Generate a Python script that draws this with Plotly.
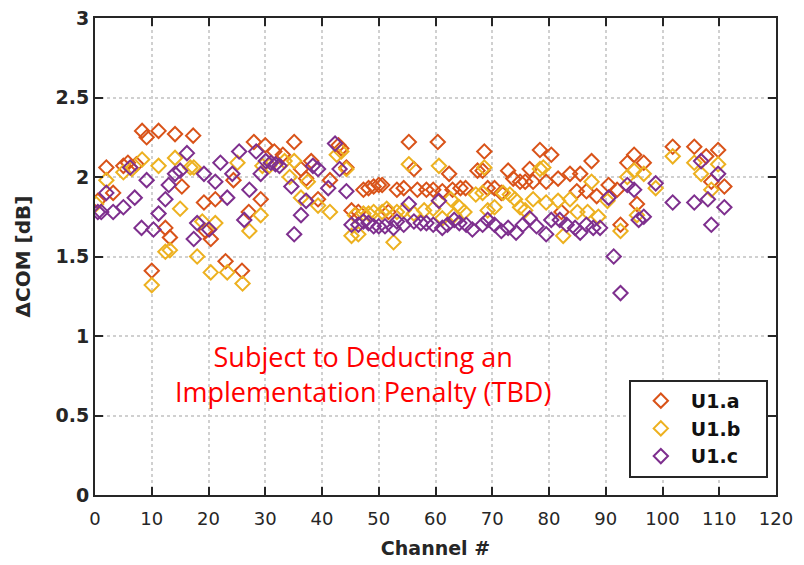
import plotly.graph_objects as go

# U1.a (channel, delta COM)
a_ch = [0.5, 2.0, 3.2, 5.0, 5.8, 7.3, 8.3, 9.1, 10.0, 11.2, 12.4, 13.2, 14.1, 15.3, 17.3, 19.2, 19.5, 20.4,
        21.2, 23.0, 24.4, 25.9, 27.1, 28.0, 29.2, 30.0, 31.6, 33.1, 35.1, 36.3, 37.2, 38.1, 39.3, 41.4,
        42.9, 43.4, 44.3, 45.2, 46.4, 47.3, 48.2, 49.1, 50.0, 50.6, 51.7, 53.2, 54.4, 55.3, 56.2, 56.8,
        58.4, 59.6, 60.4, 61.2, 62.4, 63.0, 64.4, 65.3, 67.4, 68.3, 68.6, 69.2, 70.4, 71.6, 72.8, 73.7,
        74.9, 75.8, 76.6, 77.2, 78.4, 79.5, 80.4, 81.6, 82.2, 83.7, 84.9, 85.5, 86.6, 87.5, 88.4, 90.5,
        92.0, 92.6, 93.8, 95.0, 95.5, 96.7, 101.8, 105.6, 107.7, 108.6, 109.8, 110.9]
a_val = [1.85, 2.06, 1.90, 2.07, 2.09, 2.08, 2.29, 2.25, 1.41, 2.29, 1.68, 1.62, 2.27, 1.94, 2.26, 1.84, 1.66, 1.61,
         1.86, 1.47, 1.98, 1.41, 1.78, 2.22, 1.86, 2.20, 2.16, 2.14, 2.22, 2.05, 1.99, 2.10, 1.86, 1.98,
         2.20, 2.18, 2.06, 1.79, 1.78, 1.92, 1.93, 1.94, 1.95, 1.95, 1.78, 1.92, 1.93, 2.22, 2.05, 1.92,
         1.92, 1.92, 2.22, 1.91, 2.02, 1.92, 1.93, 1.93, 2.04, 2.04, 2.16, 1.93, 1.93, 1.90, 2.04, 1.99,
         1.97, 1.97, 2.05, 1.97, 2.17, 1.97, 2.14, 1.99, 1.78, 2.02, 1.91, 2.02, 1.91, 2.10, 1.88, 1.95,
         1.92, 1.70, 2.09, 2.14, 1.83, 2.09, 2.19, 2.19, 2.13, 1.97, 2.17, 1.94]

# U1.b
b_ch = [0.2, 2.0, 5.0, 6.5, 8.3, 10.0, 11.2, 12.4, 13.2, 14.1, 15.0, 16.8, 17.4, 18.0, 18.9, 20.4, 21.2, 23.3,
        25.1, 26.0, 27.2, 29.2, 29.5, 30.7, 33.4, 34.3, 35.1, 36.3, 37.5, 39.3, 41.4, 42.6, 43.4, 44.3,
        45.2, 45.8, 46.4, 47.3, 48.2, 49.1, 50.6, 51.4, 52.6, 53.2, 54.4, 55.3, 56.2, 58.0, 59.6, 60.6,
        61.2, 62.7, 63.3, 64.2, 65.1, 67.1, 68.3, 68.6, 69.2, 70.4, 71.9, 73.1, 74.0, 74.9, 75.8, 77.2,
        78.4, 79.0, 79.5, 81.6, 82.5, 83.7, 85.0, 86.8, 87.5, 88.7, 90.3, 92.6, 93.8, 95.0, 95.5, 96.7,
        98.8, 101.8, 105.6, 106.8, 108.6, 109.8]
b_val = [1.83, 1.98, 2.03, 2.05, 2.11, 1.32, 2.07, 1.53, 1.54, 2.12, 1.80, 2.06, 2.06, 1.50, 1.72, 1.40, 1.71, 1.40,
         2.09, 1.33, 1.66, 1.76, 2.07, 2.07, 2.10, 2.00, 2.10, 1.87, 1.97, 1.82, 1.78, 2.14, 2.16, 2.05,
         1.63, 1.76, 1.64, 1.77, 1.77, 1.78, 1.78, 1.80, 1.59, 1.78, 1.79, 2.08, 1.77, 1.79, 1.80, 2.07,
         1.74, 1.86, 1.76, 1.81, 1.78, 1.89, 1.90, 2.06, 1.79, 1.81, 1.90, 1.89, 1.86, 1.81, 1.79, 1.86,
         2.05, 2.06, 1.84, 1.85, 1.63, 1.86, 1.78, 1.78, 1.97, 1.75, 1.85, 1.66, 2.00, 2.04, 1.76, 2.02,
         1.93, 2.13, 2.09, 2.02, 1.92, 2.08]

# U1.c
c_ch = [0.5, 1.1, 2.0, 3.2, 5.0, 6.2, 7.0, 8.2, 9.1, 10.3, 11.2, 12.4, 13.0, 14.1, 15.0, 16.2, 17.4, 18.0,
        19.2, 20.1, 21.2, 22.1, 23.3, 24.2, 25.4, 26.3, 27.2, 28.4, 29.2, 30.1, 31.0, 31.8, 32.5, 34.6,
        35.1, 36.3, 37.2, 38.4, 39.3, 41.1, 42.3, 43.1, 44.3, 45.2, 46.4, 47.3, 48.2, 49.1, 50.0, 51.1,
        52.6, 53.2, 54.4, 55.3, 56.2, 57.4, 58.4, 59.6, 60.6, 61.2, 62.1, 63.3, 64.2, 65.4, 66.5, 68.3,
        69.2, 70.4, 71.6, 72.8, 74.2, 75.4, 76.6, 77.8, 79.5, 80.4, 81.9, 83.1, 84.6, 85.5, 86.6, 87.8,
        89.0, 90.5, 91.4, 92.6, 93.8, 95.0, 95.8, 96.7, 98.8, 101.8, 105.6, 106.8, 108.0, 108.6, 109.8, 110.9]
c_val = [1.78, 1.78, 1.90, 1.78, 1.81, 2.06, 1.87, 1.68, 1.98, 1.67, 1.77, 1.86, 1.95, 2.02, 2.04, 2.15, 1.61, 1.71,
         2.02, 1.67, 1.97, 2.09, 1.87, 2.02, 2.16, 1.73, 1.92, 2.16, 2.02, 2.10, 2.09, 2.08, 2.07, 1.94,
         1.64, 1.76, 1.85, 2.07, 2.05, 1.93, 2.21, 2.05, 1.91, 1.70, 1.70, 1.72, 1.71, 1.69, 1.69, 1.69,
         1.68, 1.72, 1.70, 1.83, 1.72, 1.71, 1.71, 1.70, 1.85, 1.68, 1.70, 1.73, 1.71, 1.70, 1.67, 1.70,
         1.73, 1.70, 1.66, 1.68, 1.65, 1.70, 1.74, 1.69, 1.64, 1.73, 1.73, 1.70, 1.68, 1.65, 1.70, 1.68,
         1.68, 1.87, 1.50, 1.27, 1.95, 1.92, 1.73, 1.75, 1.96, 1.84, 1.84, 2.10, 1.86, 1.70, 2.02, 1.81]

series = [("U1.a", a_ch, a_val, "#D95319"),
          ("U1.b", b_ch, b_val, "#EDB120"),
          ("U1.c", c_ch, c_val, "#7E2F8E")]

x_ticks = list(range(0, 121, 10))
y_ticks = [0, 0.5, 1, 1.5, 2, 2.5, 3]
y_labels = ["0", "0.5", "1", "1.5", "2", "2.5", "3"]

fig = go.Figure()
for name, xs, ys, col in series:
    fig.add_trace(go.Scatter(x=xs, y=ys, mode="markers", name=name + "&nbsp;&nbsp;&nbsp;",
                             marker=dict(symbol="diamond-open", size=11, color=col,
                                         line=dict(width=2, color=col))))

axis_style = dict(showline=True, linecolor="#262626", linewidth=2, mirror="allticks",
                  ticks="inside", ticklen=8, tickwidth=2, tickcolor="#262626",
                  showgrid=True, gridcolor="#d0d0d0", griddash="dot", gridwidth=2,
                  zeroline=False, automargin=False, ticklabeloverflow="allow")

fig.update_xaxes(range=[0, 120], tickvals=x_ticks, ticklabelstandoff=6,
                 tickfont=dict(family="DejaVu Sans", size=18, color="#262626"),
                 title=dict(text="Channel #", font=dict(family="DejaVu Sans", size=19, color="#262626", weight="bold"),
                            standoff=14),
                 **axis_style)
fig.update_yaxes(range=[0, 3], tickvals=y_ticks, ticktext=y_labels,
                 tickfont=dict(family="DejaVu Sans", size=19, color="#262626", weight="bold"),
                 title=dict(text="ΔCOM [dB]", font=dict(family="DejaVu Sans", size=20, color="#262626", weight="bold"),
                            standoff=20),
                 **axis_style)

fig.add_annotation(x=47.2, y=0.76, xref="x", yref="y",
                   text="Subject to Deducting an<br>Implementation Penalty (TBD)",
                   showarrow=False, align="center",
                   font=dict(family="Open Sans", size=27, color="#FF0000"))

# page body adds an 8px offset, so the figure is a bit smaller than the window
fig.update_layout(width=796, height=557, template="simple_white",
                  paper_bgcolor="white", plot_bgcolor="white",
                  margin=dict(l=87, r=28, t=10, b=70),
                  showlegend=True,
                  legend=dict(x=0.988, y=0.036, xanchor="right", yanchor="bottom",
                              bgcolor="white", bordercolor="#262626", borderwidth=2,
                              font=dict(family="DejaVu Sans", size=19, color="#111111", weight="bold"),
                              itemwidth=50, tracegroupgap=0))

fig.write_html("out.html")
